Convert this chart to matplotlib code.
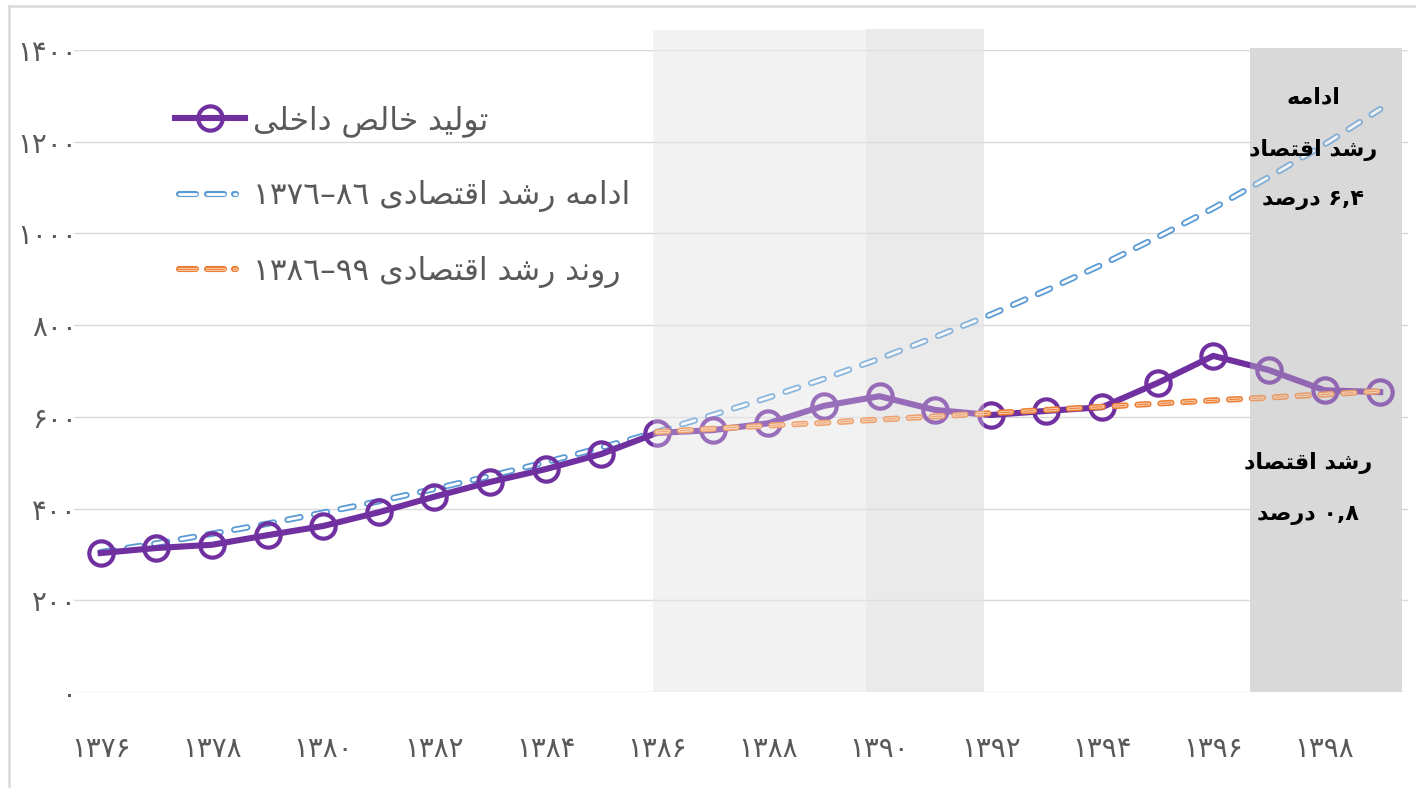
import re
import matplotlib
matplotlib.use("Agg")
import matplotlib.pyplot as plt
from matplotlib.lines import Line2D
from matplotlib.patches import Rectangle
from matplotlib.legend_handler import HandlerBase

plt.rcParams['font.family'] = ['DejaVu Sans']
plt.rcParams['lines.scale_dashes'] = False

# ---------------- data ----------------
years = list(range(1376, 1400))
gdp = [303, 314, 321, 342, 362, 392, 426, 458, 486, 519, 565, 571,
       586, 624, 645, 615, 604, 613, 621, 674, 733, 702, 658, 654]
trend_76_86 = [305, 324, 345, 367, 391, 416, 443, 471, 501, 533, 567, 604,
               642, 683, 727, 774, 823, 876, 932, 992, 1055, 1123, 1194, 1271]
years_86_99 = list(range(1386, 1400))
trend_86_99 = [567, 574, 581, 587, 594, 601, 608, 615, 622, 629, 636, 642, 649, 656]

xtick_years = list(range(1376, 1400, 2))
xtick_labels = ['۱۳۷۶', '۱۳۷۸', '۱۳۸۰', '۱۳۸۲', '۱۳۸۴', '۱۳۸۶',
                '۱۳۸۸', '۱۳۹۰', '۱۳۹۲', '۱۳۹۴', '۱۳۹۶', '۱۳۹۸']
ytick_vals = [0, 200, 400, 600, 800, 1000, 1200, 1400]
ytick_labels = ['۰', '۲۰۰', '۴۰۰', '۶۰۰', '۸۰۰', '۱۰۰۰', '۱۲۰۰', '۱۴۰۰']

label_gdp = 'تولید خالص داخلی'
label_76 = 'ادامه رشد اقتصادی ۱۳۷٦–۸٦'
label_86 = 'روند رشد اقتصادی ۱۳۸٦–۹۹'
note_top = ['ادامه', 'رشد اقتصاد', '۶,۴ درصد']
note_bottom = ['رشد اقتصاد', '۰,۸ درصد']

# shaded periods (start, end, top, colour)
shade_spans = [(1385.92, 1389.75, 1443, '#F2F2F2'),
               (1389.75, 1391.87, 1446, '#EAEAEA'),
               (1396.66, 1399.40, 1404, '#D9D9D9')]

# ---------------- minimal Arabic shaping + visual ordering ----------------
FORMS = {
    'ا': ('\uFE8D', '\uFE8E'), 'آ': ('\uFE81', '\uFE82'),
    'د': ('\uFEA9', '\uFEAA'), 'ذ': ('\uFEAB', '\uFEAC'),
    'ر': ('\uFEAD', '\uFEAE'), 'ز': ('\uFEAF', '\uFEB0'),
    'و': ('\uFEED', '\uFEEE'),
    'ب': ('\uFE8F', '\uFE90', '\uFE91', '\uFE92'),
    'ت': ('\uFE95', '\uFE96', '\uFE97', '\uFE98'),
    'ث': ('\uFE99', '\uFE9A', '\uFE9B', '\uFE9C'),
    'ج': ('\uFE9D', '\uFE9E', '\uFE9F', '\uFEA0'),
    'ح': ('\uFEA1', '\uFEA2', '\uFEA3', '\uFEA4'),
    'خ': ('\uFEA5', '\uFEA6', '\uFEA7', '\uFEA8'),
    'س': ('\uFEB1', '\uFEB2', '\uFEB3', '\uFEB4'),
    'ش': ('\uFEB5', '\uFEB6', '\uFEB7', '\uFEB8'),
    'ص': ('\uFEB9', '\uFEBA', '\uFEBB', '\uFEBC'),
    'ض': ('\uFEBD', '\uFEBE', '\uFEBF', '\uFEC0'),
    'ط': ('\uFEC1', '\uFEC2', '\uFEC3', '\uFEC4'),
    'ع': ('\uFEC9', '\uFECA', '\uFECB', '\uFECC'),
    'ف': ('\uFED1', '\uFED2', '\uFED3', '\uFED4'),
    'ق': ('\uFED5', '\uFED6', '\uFED7', '\uFED8'),
    'ل': ('\uFEDD', '\uFEDE', '\uFEDF', '\uFEE0'),
    'م': ('\uFEE1', '\uFEE2', '\uFEE3', '\uFEE4'),
    'ن': ('\uFEE5', '\uFEE6', '\uFEE7', '\uFEE8'),
    'ه': ('\uFEE9', '\uFEEA', '\uFEEB', '\uFEEC'),
    'ی': ('\uFBFC', '\uFBFD', '\uFBFE', '\uFBFF'),
}


def shape(s):
    out = []
    i = 0
    n = len(s)
    while i < n:
        c = s[i]
        if c not in FORMS:
            out.append(c)
            i += 1
            continue
        prev = s[i - 1] if i > 0 else None
        join_prev = prev in FORMS and len(FORMS[prev]) == 4
        if c == 'ل' and i + 1 < n and s[i + 1] == 'ا':
            out.append('\uFEFC' if join_prev else '\uFEFB')
            i += 2
            continue
        nxt = s[i + 1] if i + 1 < n else None
        join_next = nxt in FORMS and len(FORMS[c]) == 4
        f = FORMS[c]
        if join_prev and join_next:
            out.append(f[3])
        elif join_prev:
            out.append(f[1])
        elif join_next:
            out.append(f[2])
        else:
            out.append(f[0])
        i += 1
    vis = ''.join(out)[::-1]
    vis = re.sub(r'[0-9۰-۹٠-٩][0-9۰-۹٠-٩,\-–]*', lambda m: m.group(0)[::-1], vis)
    return vis


class DashKeyHandler(HandlerBase):
    """Legend key made of two long outlined dashes and a short one."""

    def __init__(self, layers):
        super().__init__()
        self.layers = layers  # list of (colour, linewidth)

    def create_artists(self, legend, orig_handle, xdescent, ydescent, width,
                       height, fontsize, trans):
        y = height / 2 - ydescent
        x0 = -xdescent
        pieces = [(0.06, 0.30), (0.45, 0.69), (0.84, 0.87)]
        arts = []
        for col, lw in self.layers:
            for a, b in pieces:
                ln = Line2D([x0 + a * width, x0 + b * width], [y, y], color=col,
                            lw=lw, solid_capstyle='round', transform=trans)
                arts.append(ln)
        return arts


# ---------------- figure ----------------
fig = plt.figure(figsize=(14.16, 7.88), dpi=100)
ax = fig.add_axes([74 / 1416, 96 / 788, (1408 - 74) / 1416, (692 - 50) / 788])

ax.set_xlim(1375.52, 1399.5)
ax.set_ylim(0, 1400)

for x0, x1, top, col in shade_spans:
    ax.add_patch(Rectangle((x0, 0), x1 - x0, top, facecolor=col, edgecolor='none',
                           zorder=0.2, clip_on=False))

ax.set_axisbelow(True)
ax.grid(axis='y', color='#D9D9D9', lw=1.0)
ax.grid(axis='x', visible=False)
for sp in ax.spines.values():
    sp.set_visible(False)

purple = '#7030A0'
blue = '#5B9BD5'
orange = '#ED7D31'
orange_light = '#F8CBAD'
dash_b = (0, (9.5, 10.0))
dash_o = (0, (8.0, 8.5))

# blue trend 1376-86 continued
b_out, = ax.plot(years, trend_76_86, color=blue, lw=4.6, linestyle=dash_b,
                 dash_capstyle='round', zorder=2)
ax.plot(years, trend_76_86, color='white', lw=2.0, linestyle=dash_b,
        dash_capstyle='round', zorder=2.1)

# gdp line
g_line, = ax.plot(years, gdp, color=purple, lw=4.4, marker='o', ms=17.5,
                  mfc='none', mec=purple, mew=3.0, zorder=3)

# orange trend 1386-99
o_out, = ax.plot(years_86_99, trend_86_99, color=orange, lw=4.4, linestyle=dash_o,
                 dash_capstyle='round', zorder=4)
ax.plot(years_86_99, trend_86_99, color=orange_light, lw=2.2, linestyle=dash_o,
        dash_capstyle='round', zorder=4.1)
ax.plot(years_86_99, trend_86_99, color=orange, lw=0.7, linestyle=dash_o,
        dash_capstyle='butt', zorder=4.2)

# translucent overlay so the lines look muted inside the shaded periods
for x0, x1, top, col in shade_spans:
    ax.add_patch(Rectangle((x0, 0), x1 - x0, top, facecolor=col, edgecolor='none',
                           alpha=0.32, zorder=5, clip_on=False))

# ticks
ax.set_xticks(xtick_years)
ax.set_xticklabels(xtick_labels)
ax.set_yticks(ytick_vals)
ax.set_yticklabels(ytick_labels)
ax.tick_params(axis='x', length=0, pad=31, labelsize=20, labelcolor='#595959')
ax.tick_params(axis='y', length=0, pad=-2, labelsize=20, labelcolor='#595959')

# notes
for txt, y in zip(note_top, [1297, 1182, 1073]):
    ax.text(1397.8, y, shape(txt), ha='center', va='center', fontsize=16,
            fontweight='bold', color='black', zorder=6)
for txt, y in zip(note_bottom, [499, 386]):
    ax.text(1397.7, y, shape(txt), ha='center', va='center', fontsize=16,
            fontweight='bold', color='black', zorder=6)

# legend
leg = ax.legend([g_line, b_out, o_out],
                [shape(label_gdp), shape(label_76), shape(label_86)],
                handler_map={b_out: DashKeyHandler([(blue, 4.4), ('white', 2.0)]),
                             o_out: DashKeyHandler([(orange, 4.4), (orange_light, 2.2),
                                                    (orange, 0.7)])},
                loc='upper left', bbox_to_anchor=(175 / 1416, 1 - 105 / 788),
                bbox_transform=fig.transFigure, frameon=False, fontsize=22.5,
                labelcolor='#595959', handlelength=2.25, handletextpad=0.25,
                labelspacing=1.4, borderpad=0, borderaxespad=0, numpoints=1)
leg.set_zorder(7)

# outer frame of the picture
fig.add_artist(Line2D([9 / 1416, 9 / 1416], [0, 1 - 6 / 788], transform=fig.transFigure,
                      color='#D9D9D9', lw=1.8))
fig.add_artist(Line2D([9 / 1416, 1], [1 - 6 / 788, 1 - 6 / 788], transform=fig.transFigure,
                      color='#D9D9D9', lw=1.8))

fig.savefig('out.png', dpi=100)
